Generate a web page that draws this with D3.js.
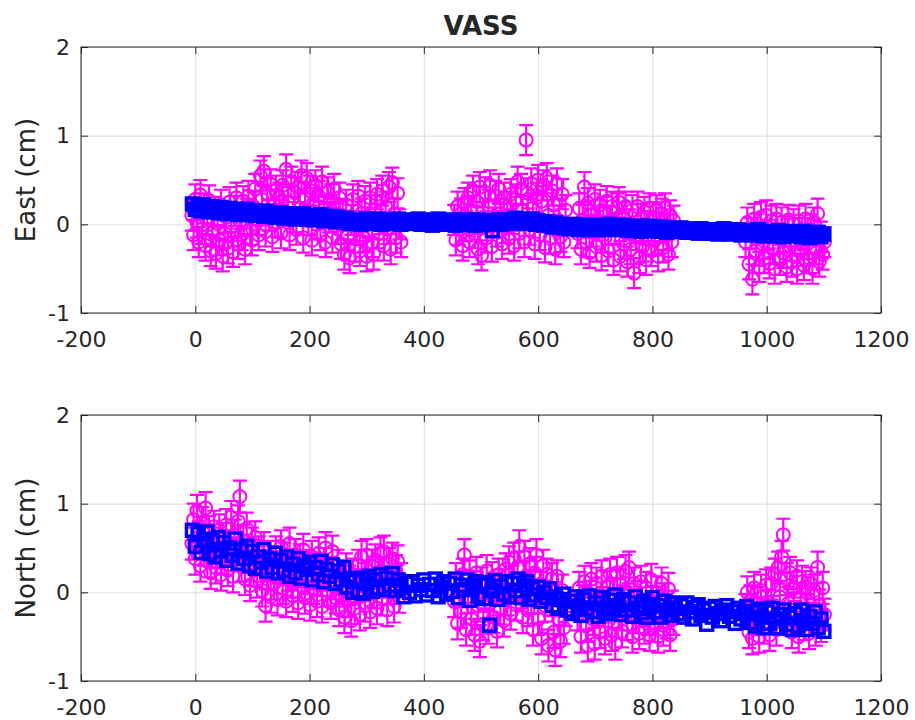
<!DOCTYPE html>
<html>
<head>
<meta charset="utf-8">
<script src="https://cdn.jsdelivr.net/npm/d3@7"></script>
<style>
body { margin: 0; background: #fff; }
text { font-family: "DejaVu Sans", sans-serif; fill: #262626; }
.grid line { stroke: #dcdcdc; stroke-width: 1; }
.grid path { display: none; }
.ticks path { display: none; }
.ticks line { stroke: #262626; }
.ticks text { font-size: 22px; }
</style>
</head>
<body>
<div id="chart"></div>
<script>
var title = "VASS";
var xTicks = [-200, 0, 200, 400, 600, 800, 1000, 1200];
var yTicks = [-1, 0, 1, 2];

// daily solutions are sampled every 3 days inside four observation periods
var obsStart = [-6, 453, 669, 963];
var obsStep = 3;
var eastSigma = 0.17;
var northSigma = 0.18;

var eastObs = [
    [0.10,-0.12,0.28,0.02,-0.20,0.33,-0.05,0.18,-0.24,0.06,
     0.27,-0.30,-0.08,0.14,-0.33,0.01,-0.18,0.22,-0.36,-0.10,
     0.08,-0.27,0.25,-0.02,-0.31,0.15,0.30,-0.22,0.04,-0.12,
     0.26,-0.28,0.12,0.32,-0.06,-0.18,0.20,0.40,0.05,-0.12,
     0.55,0.28,0.60,-0.08,0.35,0.10,0.45,-0.14,0.22,0.38,
     0.02,0.30,-0.10,0.44,0.15,0.62,0.25,-0.12,0.48,0.08,
     0.36,-0.06,0.42,0.18,0.55,-0.15,0.30,0.52,0.05,0.38,
     -0.18,0.24,0.44,0.00,0.32,-0.12,0.48,0.16,-0.20,0.36,
     0.08,0.28,-0.15,0.40,0.12,-0.05,0.30,-0.22,0.10,-0.34,
     0.22,-0.12,-0.38,0.05,0.28,-0.25,-0.06,0.32,-0.30,0.12,
     -0.15,0.26,-0.36,0.02,0.30,-0.20,-0.34,0.16,0.34,-0.10,
     0.06,0.38,-0.24,0.20,-0.05,0.42,-0.28,0.47,0.12,-0.15,
     0.35,0.00,-0.20],
    [0.05,-0.18,0.20,-0.06,0.12,-0.24,0.24,-0.02,0.30,-0.20,
     0.15,0.38,-0.10,0.26,-0.28,0.42,-0.35,0.08,0.36,-0.15,
     0.22,0.44,-0.25,0.02,0.32,-0.08,0.40,0.12,-0.22,0.30,
     -0.04,0.20,-0.16,0.34,0.06,-0.24,0.28,0.48,-0.10,0.40,
     0.15,-0.20,0.95,0.35,-0.06,0.46,0.18,-0.22,0.30,0.50,
     -0.12,0.26,0.44,-0.26,0.52,0.10,-0.16,0.38,0.22,-0.28,
     0.46,0.04,-0.14,0.34,-0.20,0.16],
    [-0.10,0.18,-0.28,0.05,0.42,-0.20,0.24,-0.32,0.10,-0.08,
     0.28,-0.25,0.02,0.22,-0.35,0.14,-0.15,0.26,-0.30,0.04,
     0.20,-0.40,-0.05,0.18,0.25,-0.36,0.08,-0.22,0.20,-0.42,
     0.00,-0.28,0.16,-0.55,-0.12,0.20,-0.38,0.06,-0.25,0.14,
     -0.40,-0.02,0.18,-0.30,0.08,-0.18,0.16,-0.36,-0.04,0.12,
     -0.26,0.18,-0.12,-0.34,0.10,-0.20,0.04],
    [-0.20,0.02,-0.45,-0.10,-0.62,0.06,-0.30,-0.05,-0.48,0.08,
     -0.22,-0.38,0.10,-0.12,-0.44,0.04,-0.28,-0.50,0.06,-0.16,
     -0.40,0.02,-0.32,-0.08,-0.48,0.05,-0.24,-0.42,0.00,-0.18,
     -0.50,0.04,-0.30,-0.10,-0.46,0.06,-0.22,-0.38,-0.06,-0.50,
     0.02,-0.28,0.12,-0.42,-0.14,-0.34,-0.20]
];

var northObs = [
    [0.55,0.82,0.38,0.92,0.62,0.30,0.78,0.48,0.95,0.35,
     0.68,0.22,0.55,0.74,0.28,0.45,0.70,0.20,0.60,0.38,
     0.76,0.25,0.52,0.85,0.18,0.64,0.42,0.80,1.08,0.30,
     0.58,0.15,0.72,0.40,0.08,0.55,0.25,0.62,0.12,0.45,
     0.30,0.02,0.50,-0.15,0.22,0.40,-0.05,0.34,0.10,0.45,
     -0.08,0.28,0.52,0.05,0.38,-0.10,0.20,0.55,0.12,-0.04,
     0.42,0.26,-0.12,0.36,0.08,0.48,-0.06,0.30,0.16,-0.14,
     0.40,0.05,0.26,-0.10,0.44,0.14,-0.16,0.32,0.50,0.02,
     0.22,-0.12,0.46,0.10,-0.06,0.30,-0.20,0.18,0.02,-0.28,
     0.26,-0.10,0.12,-0.32,0.20,-0.18,0.06,0.30,-0.25,0.40,
     0.08,-0.15,0.42,0.18,-0.22,0.30,0.00,0.36,-0.18,0.22,
     0.44,-0.08,0.46,0.12,-0.20,0.32,0.05,0.38,-0.16,0.24,
     0.35,-0.05,0.15],
    [-0.10,0.15,-0.35,0.02,-0.22,0.20,0.42,-0.42,-0.05,0.18,
     -0.30,0.06,-0.48,0.22,-0.15,-0.55,0.10,-0.36,-0.02,0.24,
     -0.40,-0.12,0.16,-0.28,0.04,-0.44,0.20,-0.18,0.08,-0.32,
     0.26,-0.08,0.34,-0.24,0.12,0.38,-0.14,0.28,0.52,0.00,
     -0.28,0.40,0.18,-0.20,0.32,-0.06,-0.42,0.22,0.42,-0.30,
     0.05,-0.52,0.30,-0.15,0.20,-0.60,-0.08,0.15,-0.45,-0.65,
     0.18,-0.30,-0.55,0.02,-0.40,-0.20],
    [-0.25,0.05,-0.50,-0.10,0.12,-0.38,-0.60,-0.05,0.15,-0.30,
     -0.58,0.10,-0.20,-0.45,0.18,-0.12,-0.52,0.06,-0.32,0.20,
     -0.48,-0.02,-0.58,0.22,-0.25,0.08,-0.44,-0.10,0.24,-0.36,
     0.28,-0.15,-0.50,0.10,-0.28,-0.05,-0.46,0.12,-0.20,-0.40,
     0.05,-0.30,-0.48,0.14,-0.12,-0.38,0.00,-0.50,-0.22,0.10,
     -0.42,-0.08,-0.34,0.04,-0.48,-0.16,-0.30],
    [-0.20,0.00,-0.45,-0.10,-0.52,0.05,-0.30,-0.12,-0.50,0.02,
     -0.25,-0.40,0.08,-0.15,-0.48,0.10,-0.22,0.20,-0.42,0.28,
     -0.05,0.40,0.65,-0.30,0.15,-0.12,0.22,-0.45,0.05,-0.28,
     0.18,-0.50,-0.08,0.12,-0.36,0.06,-0.20,-0.46,0.10,-0.30,
     0.02,-0.42,0.28,-0.15,-0.38,0.05,-0.25]
];

// model series, every 5 days from day -5
var modelStart = -5;
var modelStep = 5;

var eastModel = [
    0.23,0.17,0.21,0.15,0.22,0.18,0.14,0.20,0.16,0.13,0.19,
    0.15,0.12,0.18,0.14,0.17,0.11,0.16,0.13,0.17,0.11,
    0.15,0.10,0.14,0.12,0.09,0.15,0.11,0.13,0.08,0.12,
    0.13,0.07,0.11,0.09,0.12,0.06,0.10,0.08,0.12,0.06,
    0.10,0.05,0.09,0.07,0.11,0.04,0.08,0.06,0.09,0.03,
    0.08,0.05,0.03,0.07,0.01,0.04,0.02,0.05,0.00,0.04,
    0.06,0.01,0.04,0.02,0.06,0.00,0.03,0.05,0.01,0.04,
    0.02,0.06,0.00,0.04,0.02,0.05,0.01,0.03,0.06,0.00,
    0.04,0.02,0.05,-0.01,0.03,0.06,0.01,0.04,0.00,0.03,
    0.05,-0.01,0.03,0.01,0.05,0.00,0.04,0.02,-0.01,0.05,
    0.01,0.04,0.00,0.03,-0.07,0.02,0.05,0.00,0.03,0.01,
    0.05,0.02,0.07,0.03,0.06,0.01,0.05,0.02,0.06,0.00,
    0.04,0.01,-0.01,0.03,0.00,-0.03,0.02,-0.02,0.00,-0.04,
    -0.01,-0.05,-0.02,0.00,-0.06,-0.03,-0.01,-0.05,-0.02,-0.06,
    -0.01,-0.04,-0.02,-0.06,-0.03,0.00,-0.05,-0.02,-0.06,-0.03,
    -0.01,-0.06,-0.03,-0.07,-0.02,-0.05,-0.08,-0.03,-0.06,-0.02,
    -0.07,-0.04,-0.08,-0.03,-0.06,-0.09,-0.04,-0.07,-0.05,-0.08,
    -0.04,-0.07,-0.09,-0.05,-0.08,-0.06,-0.10,-0.05,-0.08,-0.10,
    -0.06,-0.10,-0.07,-0.11,-0.08,-0.05,-0.09,-0.11,-0.07,-0.10,
    -0.06,-0.12,-0.09,-0.07,-0.11,-0.08,-0.12,-0.06,-0.10,-0.13,
    -0.08,-0.12,-0.09,-0.13,-0.07,-0.11,-0.14,-0.09,-0.12,-0.08,
    -0.13,-0.10,-0.14,-0.08,-0.12,-0.15,-0.10,-0.13,-0.09,-0.14,-0.11
];

var northModel = [
    0.70,0.52,0.66,0.45,0.60,0.68,0.44,0.58,0.40,0.62,0.47,
    0.56,0.36,0.50,0.42,0.60,0.33,0.48,0.38,0.52,0.30,
    0.46,0.27,0.40,0.34,0.48,0.24,0.38,0.28,0.44,0.22,
    0.36,0.25,0.40,0.18,0.32,0.22,0.38,0.16,0.30,0.26,
    0.34,0.14,0.28,0.20,0.35,0.12,0.26,0.18,0.31,0.10,
    0.24,0.14,0.28,0.06,0.15,0.00,0.12,0.02,0.16,-0.01,
    0.10,0.18,0.01,0.14,0.05,0.20,0.03,0.16,0.08,0.21,
    0.02,0.14,0.06,-0.05,0.10,0.00,0.12,-0.04,0.08,0.03,
    0.14,-0.03,0.09,0.02,0.15,-0.05,0.06,0.12,-0.02,0.10,
    0.01,0.15,-0.06,0.08,0.03,0.14,-0.09,0.06,0.12,-0.04,
    0.08,-0.07,0.11,-0.37,0.02,0.13,-0.08,0.07,-0.02,0.12,
    -0.05,0.10,0.02,0.15,-0.06,0.08,0.12,-0.08,0.04,-0.03,
    0.06,-0.10,0.00,-0.06,0.04,-0.15,-0.05,-0.18,-0.08,-0.02,
    -0.20,-0.10,-0.24,-0.05,-0.16,-0.26,-0.08,-0.19,-0.04,-0.22,
    -0.12,-0.27,-0.06,-0.18,-0.24,-0.09,-0.20,-0.03,-0.15,-0.25,
    -0.08,-0.20,-0.12,-0.27,-0.05,-0.18,-0.23,-0.10,-0.28,-0.14,
    -0.06,-0.22,-0.15,-0.28,-0.10,-0.20,-0.26,-0.12,-0.18,-0.24,
    -0.15,-0.28,-0.12,-0.22,-0.30,-0.17,-0.14,-0.26,-0.20,-0.36,
    -0.18,-0.28,-0.16,-0.24,-0.32,-0.20,-0.15,-0.27,-0.22,-0.35,
    -0.18,-0.30,-0.24,-0.16,-0.34,-0.22,-0.38,-0.19,-0.28,-0.40,
    -0.22,-0.35,-0.18,-0.30,-0.40,-0.25,-0.20,-0.36,-0.28,-0.42,
    -0.24,-0.38,-0.20,-0.32,-0.42,-0.27,-0.35,-0.22,-0.40,-0.30,-0.44
];

function segmentPoints(segments, starts, step) {
    var pts = [];
    segments.forEach(function(seg, i) {
        seg.forEach(function(v, j) {
            pts.push({ day: starts[i] + j * step, value: v });
        });
    });
    return pts;
}

function seriesPoints(values, start, step) {
    return values.map(function(v, i) { return { day: start + i * step, value: v }; });
}

// plain labels like MATLAB: "-200", "1000", "2"
function plainLabel(d) { return String(d); }

var svg = d3.select("#chart")
    .append("svg")
    .attr("width", 915)
    .attr("height", 720);

svg.append("text")
    .text(title)
    .attr("x", 481)
    .attr("y", 35)
    .attr("text-anchor", "middle")
    .style("font-size", "26px")
    .style("font-weight", "bold");

function drawPanel(top, label, obs, model, sigma) {
    var margin = { left: 81, top: top };
    var width = 800, height = 266;
    var tick = 7, cap = 7;

    var x = d3.scaleLinear().domain([-200, 1200]).range([0, width]);
    var y = d3.scaleLinear().domain([-1, 2]).range([height, 0]);

    var g = svg.append("g")
        .attr("transform", "translate(" + margin.left + "," + margin.top + ")");

    // grid under the data
    g.append("g").attr("class", "grid")
        .attr("transform", "translate(0," + height + ")")
        .call(d3.axisBottom(x).tickValues(xTicks).tickSize(-height).tickFormat(""));
    g.append("g").attr("class", "grid")
        .call(d3.axisLeft(y).tickValues(yTicks).tickSize(-width).tickFormat(""));

    // observations with error bars
    g.selectAll(".err")
        .data(obs)
        .enter().append("path")
        .attr("class", "err")
        .attr("fill", "none")
        .attr("stroke", "#ff00ff")
        .attr("stroke-width", 2.2)
        .attr("d", function(d) {
            var px = x(d.day), y0 = y(d.value + sigma), y1 = y(d.value - sigma);
            return "M" + (px - cap) + "," + y0 + "H" + (px + cap) +
                "M" + px + "," + y0 + "V" + y1 +
                "M" + (px - cap) + "," + y1 + "H" + (px + cap);
        });

    g.selectAll(".obs")
        .data(obs)
        .enter().append("circle")
        .attr("class", "obs")
        .attr("cx", function(d) { return x(d.day); })
        .attr("cy", function(d) { return y(d.value); })
        .attr("r", 6.5)
        .attr("fill", "none")
        .attr("stroke", "#ff00ff")
        .attr("stroke-width", 2);

    // model squares on top
    g.selectAll(".model")
        .data(model)
        .enter().append("rect")
        .attr("class", "model")
        .attr("x", function(d) { return x(d.day) - 6; })
        .attr("y", function(d) { return y(d.value) - 6; })
        .attr("width", 12)
        .attr("height", 12)
        .attr("fill", "none")
        .attr("stroke", "#0000ff")
        .attr("stroke-width", 3.4);

    // box and inward ticks
    g.append("rect")
        .attr("width", width)
        .attr("height", height)
        .attr("fill", "none")
        .attr("stroke", "#262626")
        .attr("stroke-width", 1);

    g.append("g").attr("class", "ticks")
        .attr("transform", "translate(0," + height + ")")
        .call(d3.axisBottom(x).tickValues(xTicks).tickFormat(plainLabel)
            .tickSizeInner(-tick).tickSizeOuter(0).tickPadding(18));
    g.append("g").attr("class", "ticks")
        .call(d3.axisTop(x).tickValues(xTicks).tickSizeInner(-tick).tickSizeOuter(0).tickFormat(""));
    g.append("g").attr("class", "ticks")
        .call(d3.axisLeft(y).tickValues(yTicks).tickFormat(plainLabel)
            .tickSizeInner(-tick).tickSizeOuter(0).tickPadding(11));
    g.append("g").attr("class", "ticks")
        .attr("transform", "translate(" + width + ",0)")
        .call(d3.axisRight(y).tickValues(yTicks).tickSizeInner(-tick).tickSizeOuter(0).tickFormat(""));

    g.selectAll(".ticks text").attr("fill", "#262626");

    svg.append("text")
        .text(label)
        .attr("transform", "translate(35," + (top + height / 2) + ") rotate(-90)")
        .attr("text-anchor", "middle")
        .style("font-size", "26px");
}

drawPanel(47, "East (cm)",
    segmentPoints(eastObs, obsStart, obsStep), seriesPoints(eastModel, modelStart, modelStep), eastSigma);
drawPanel(415, "North (cm)",
    segmentPoints(northObs, obsStart, obsStep), seriesPoints(northModel, modelStart, modelStep), northSigma);
</script>
</body>
</html>
